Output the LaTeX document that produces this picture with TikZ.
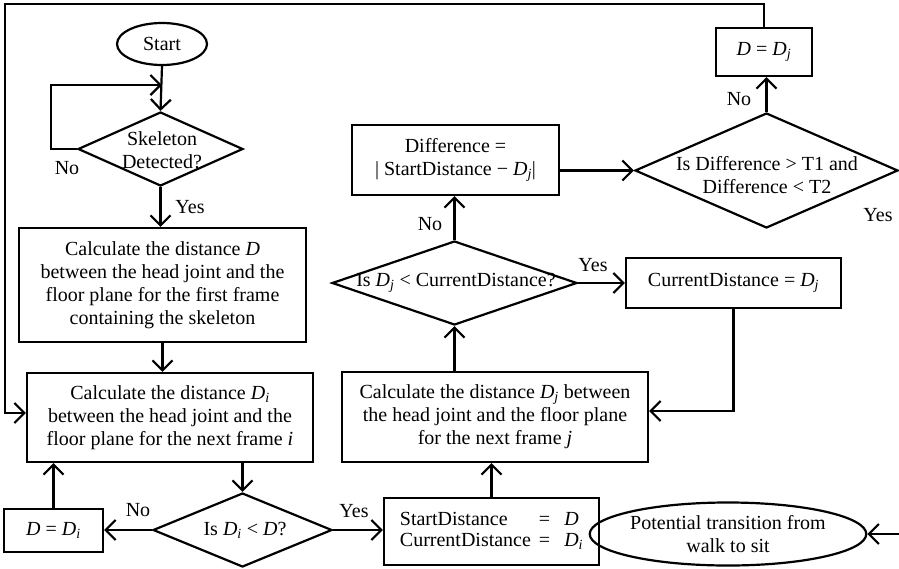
\documentclass[tikz,border=0pt]{standalone}
\usepackage{fontspec}
\setmainfont{Liberation Serif}
\usetikzlibrary{shapes.geometric,arrows.meta,calc}
\newcommand{\Dv}[1]{\textit{D}\textsubscript{\textit{#1}}}

\begin{document}
\begin{tikzpicture}[x=1pt,y=-1pt,
  every node/.style={font=\fontsize{20}{23}\selectfont},
  arr/.style={line width=2.2pt,-{Straight Barb[length=10pt,width=20pt,line width=2.2pt]}},
  procbox/.style={draw,line width=2.2pt,rectangle,inner sep=0pt,align=center},
  decision/.style={draw,line width=2.2pt,diamond,inner sep=0pt},
  term/.style={draw,line width=2.2pt,ellipse,inner sep=0pt,align=center},
  lbl/.style={inner sep=0pt}
]
\useasboundingbox (0,0) rectangle (899,568);

% terminals
\node[term,minimum width=90pt,minimum height=42pt] (start) at (162,44) {Start};
\node[term,minimum width=238pt,minimum height=63pt] (pot) at (728,534) {Potential transition from\\walk to sit};

% decisions (shape) and their texts
\node[decision,minimum width=165pt,minimum height=74pt] (skel) at (160.5,149) {};
\node[align=center,inner sep=0pt] (skelt) at (162,150) {Skeleton\\Detected?};
\node[decision,minimum width=179pt,minimum height=74pt] (di) at (242.5,530) {};
\node[inner sep=0pt] (dit) at (245,530) {Is \Dv{i} < \textit{D}?};
\node[decision,minimum width=245pt,minimum height=84pt] (dj) at (454.5,283) {};
\node[inner sep=0pt] (djt) at (456,283) {Is \Dv{j} < CurrentDistance?};
\node[decision,minimum width=263pt,minimum height=115pt] (big) at (766.5,170.5) {};
\node[align=center,inner sep=0pt] (bigt) at (767,175) {Is Difference > T1 and\\Difference < T2};

% process boxes
\node[procbox,minimum width=287pt,minimum height=114pt] (box1) at (162.5,285)
  {Calculate the distance \textit{D}\\between the head joint and the\\floor plane for the first frame\\containing the skeleton};
\node[procbox,minimum width=286pt,minimum height=89pt] (box2) at (170,417.5)
  {Calculate the distance \Dv{i}\\between the head joint and the\\floor plane for the next frame \textit{i}};
\node[procbox,minimum width=99pt,minimum height=43pt] (ddi) at (53.5,530.5) {\textit{D} = \Dv{i}};
\node[procbox,minimum width=215pt,minimum height=67pt] (sd) at (491.5,531.5)
  {\begin{tabular}{@{}l@{\hspace{8pt}}c@{\hspace{14pt}}l@{}}
   StartDistance & = & \textit{D}\\[-2pt]
   CurrentDistance & = & \Dv{i}
   \end{tabular}};
\node[procbox,minimum width=306pt,minimum height=90pt] (box3) at (495,417)
  {Calculate the distance \Dv{j} between\\the head joint and the floor plane\\for the next frame \textit{j}};
\node[procbox,minimum width=215pt,minimum height=50pt] (cd) at (733.5,283) {CurrentDistance = \Dv{j}};
\node[procbox,minimum width=207pt,minimum height=70pt] (diff) at (455.5,160)
  {Difference =\\| StartDistance − \Dv{j}|};
\node[procbox,minimum width=96pt,minimum height=48pt] (ddj) at (764,52) {\textit{D} = \Dv{j}};

% branch labels
\node[lbl] (l1) at (67,168) {No};
\node[lbl] (l2) at (190,207) {Yes};
\node[lbl] (l3) at (138,510) {No};
\node[lbl] (l4) at (354,511) {Yes};
\node[lbl] (l5) at (430,224) {No};
\node[lbl] (l6) at (593,265) {Yes};
\node[lbl] (l7) at (739,99) {No};
\node[lbl] (l8) at (878,215) {Yes};

% helper points
\coordinate (loopin) at (162,85);
\coordinate (loopx) at (51,149);
\coordinate (ctop) at (5,4);
\coordinate (cbot) at (5,413);
\coordinate (redge) at (899,534);

% connectors
\draw[arr] (start.south) -- (skel.north);
\draw[arr] (skel.west) -- (loopx) |- (loopin);
\draw[arr] (skel.south) -- (skel.south |- box1.north);
\draw[arr] (box1.south) -- (box1.south |- box2.north);
\draw[arr] (di.north |- box2.south) -- (di.north);
\draw[arr] (di.west) -- (di.west -| ddi.east);
\draw[arr] (ddi.north) -- (ddi.north |- box2.south);
\draw[arr] (di.east) -- (di.east -| sd.west);
\draw[arr] (sd.north) -- (sd.north |- box3.south);
\draw[arr] (dj.south |- box3.north) -- (dj.south);
\draw[arr] (dj.east) -- (dj.east -| cd.west);
\draw[arr] (cd.south) |- ($(box3.east)+(0,-6)$);
\draw[arr] (dj.north) -- (dj.north |- diff.south);
\draw[arr] (big.west -| diff.east) -- (big.west);
\draw[arr] (big.north) -- (big.north |- ddj.south);
\draw[arr] (ddj.north) |- (ctop) -- (cbot) -- (cbot -| box2.west);
\draw[arr] (redge) -- (pot.east);
\end{tikzpicture}
\end{document}
